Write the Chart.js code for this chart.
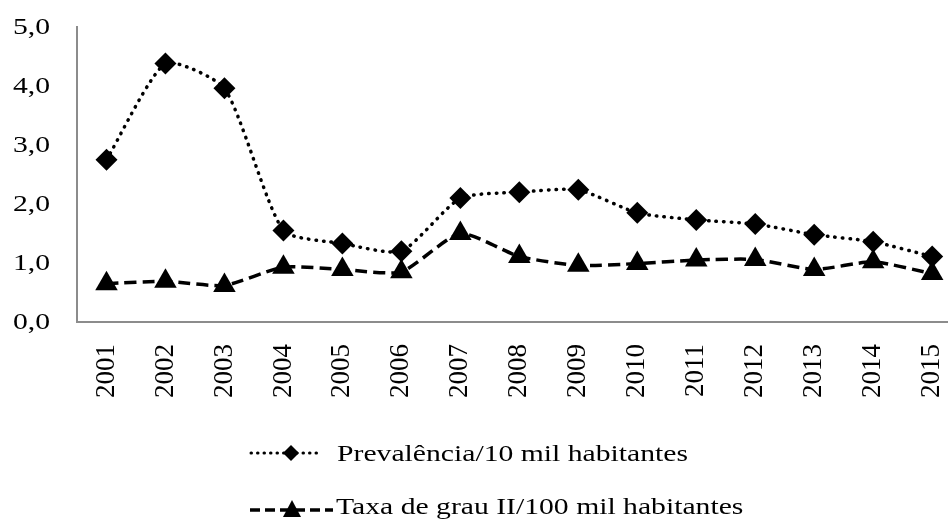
<!DOCTYPE html>
<html>
<head>
<meta charset="utf-8">
<script src="https://cdn.jsdelivr.net/npm/chart.js@4/dist/chart.umd.min.js"></script>
<style>
  html, body { margin: 0; padding: 0; overflow: hidden; background: #fff; }
  #wrap { width: 987px; height: 524px; }
</style>
</head>
<body>
<div id="wrap"><canvas id="chart"></canvas></div>
<script>
// Data
const years = ['2001', '2002', '2003', '2004', '2005', '2006', '2007', '2008',
               '2009', '2010', '2011', '2012', '2013', '2014', '2015'];
const prevalencia = [2.75, 4.38, 3.96, 1.55, 1.33, 1.20, 2.10, 2.20, 2.24, 1.85, 1.73, 1.66, 1.48, 1.36, 1.11];
const taxaGrauII  = [0.65, 0.69, 0.62, 0.93, 0.89, 0.85, 1.50, 1.11, 0.96, 0.99, 1.05, 1.06, 0.89, 1.02, 0.82];
const yTicks = [0, 1, 2, 3, 4, 5];
const seriesNames = ['Prevalência/10 mil habitantes', 'Taxa de grau II/100 mil habitantes'];

const serif = '"Liberation Serif", "Times New Roman", serif';
const axisGray = 'rgb(140,140,140)';

function fmt(v) {
  return v.toFixed(1).replace('.', ',');
}

// y tick labels, drawn a bit wide like the original
const yLabels = {
  id: 'yLabels',
  afterDraw(chart) {
    const ctx = chart.ctx;
    const y = chart.scales.y;
    ctx.save();
    ctx.font = '23px ' + serif;
    ctx.fillStyle = '#000';
    ctx.textAlign = 'right';
    ctx.textBaseline = 'middle';
    y.ticks.forEach(t => {
      ctx.save();
      ctx.translate(50, y.getPixelForValue(t.value) + 1);
      ctx.scale(1.29, 1);
      ctx.fillText(fmt(t.value), 0, 0);
      ctx.restore();
    });
    ctx.restore();
  }
};

// legend under the chart: line sample + marker + text
const bottomLegend = {
  id: 'bottomLegend',
  afterDraw(chart) {
    const ctx = chart.ctx;
    ctx.save();
    ctx.strokeStyle = '#000';
    ctx.fillStyle = '#000';

    // row 1 - dotted, diamond
    ctx.lineWidth = 3;
    ctx.lineCap = 'round';
    ctx.setLineDash([0.5, 6]);
    ctx.beginPath();
    ctx.moveTo(251, 453);
    ctx.lineTo(322, 453);
    ctx.stroke();
    ctx.setLineDash([]);
    ctx.beginPath();
    ctx.moveTo(291, 445); ctx.lineTo(299, 453); ctx.lineTo(291, 461); ctx.lineTo(283, 453);
    ctx.closePath();
    ctx.fill();

    // row 2 - dashed, triangle
    ctx.lineWidth = 3.5;
    ctx.lineCap = 'butt';
    ctx.setLineDash([10, 5]);
    ctx.beginPath();
    ctx.moveTo(250, 510);
    ctx.lineTo(333, 510);
    ctx.stroke();
    ctx.setLineDash([]);
    ctx.beginPath();
    ctx.moveTo(292, 500); ctx.lineTo(301, 517); ctx.lineTo(283, 517);
    ctx.closePath();
    ctx.fill();

    ctx.font = '23px ' + serif;
    ctx.textAlign = 'left';
    ctx.textBaseline = 'alphabetic';
    [[337, 461], [336, 514]].forEach((p, i) => {
      ctx.save();
      ctx.translate(p[0], p[1]);
      ctx.scale(1.29, 1);
      ctx.fillText(seriesNames[i], 0, 0);
      ctx.restore();
    });
    ctx.restore();
  }
};

const ctx = document.getElementById('chart').getContext('2d');
new Chart(ctx, {
  type: 'line',
  data: {
    labels: years,
    datasets: [{
      label: seriesNames[0],
      data: prevalencia,
      borderColor: '#000',
      backgroundColor: '#000',
      borderWidth: 3.5,
      borderDash: [0.5, 7],
      borderCapStyle: 'round',
      tension: 0.2,
      fill: false,
      pointStyle: 'rectRot',
      pointRadius: 11,
      pointBorderWidth: 0
    }, {
      label: seriesNames[1],
      data: taxaGrauII,
      borderColor: '#000',
      backgroundColor: '#000',
      borderWidth: 3.5,
      borderDash: [12, 6],
      tension: 0.2,
      fill: false,
      pointStyle: 'triangle',
      pointRadius: 13,
      pointBorderWidth: 0
    }]
  },
  options: {
    responsive: true,
    maintainAspectRatio: false,
    animation: false,
    layout: { padding: { top: 27, left: 0, right: 1, bottom: 117 } },
    scales: {
      x: {
        offset: true,
        grid: { display: false, drawTicks: false },
        border: { display: true, color: axisGray, width: 2 },
        ticks: {
          autoSkip: false,
          minRotation: 90,
          maxRotation: 90,
          padding: 22,
          color: '#000',
          font: { family: serif, size: 27 }
        },
        afterFit(scale) { scale.height = 85; }
      },
      y: {
        min: 0,
        max: 5,
        grid: { display: false, drawTicks: false },
        border: { display: true, color: axisGray, width: 2 },
        ticks: { stepSize: 1, display: false },
        afterBuildTicks(scale) { scale.ticks = yTicks.map(v => ({ value: v })); },
        afterFit(scale) { scale.width = 77; }
      }
    },
    plugins: {
      legend: { display: false },
      tooltip: { enabled: false }
    }
  },
  plugins: [yLabels, bottomLegend]
});
</script>
</body>
</html>
